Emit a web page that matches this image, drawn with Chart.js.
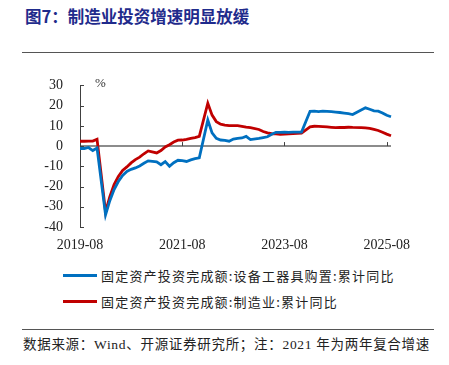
<!DOCTYPE html>
<html lang="zh">
<head>
<meta charset="UTF-8">
<title>图7：制造业投资增速明显放缓</title>
<script src="https://cdn.jsdelivr.net/npm/chart.js"></script>
<style>
    body, html {
        margin: 0;
        padding: 0;
        width: 449px;
        height: 365px;
        overflow: hidden;
        background: #fff;
        color: #222;
        font-family: 'Liberation Serif', 'Noto Sans CJK SC', serif;
    }
    .title {
        position: absolute;
        left: 25px;
        top: 6px;
        font-family: 'Noto Sans CJK SC', sans-serif;
        font-weight: 700;
        font-size: 16.5px;
        line-height: 20px;
        color: #1f2b8c;
        white-space: nowrap;
    }
    .rule {
        position: absolute;
        left: 22px;
        width: 412px;
        border-top: 1.5px solid #555;
    }
    #chartWrap {
        position: absolute;
        left: 0;
        top: 60px;
        width: 449px;
        height: 200px;
    }
    .unit {
        position: absolute;
        left: 95px;
        top: 75px;
        font-size: 13px;
        color: #333;
    }
    .legend-row {
        position: absolute;
        left: 63px;
        height: 18px;
        display: flex;
        align-items: center;
        white-space: nowrap;
    }
    .swatch {
        width: 34px;
        height: 3px;
        margin-right: 4px;
    }
    .legend-row span.lbl {
        font-family: 'Noto Sans CJK SC', sans-serif;
        font-size: 13px;
        letter-spacing: 1.2px;
        color: #222;
    }
    .source {
        position: absolute;
        left: 23px;
        top: 336px;
        font-size: 13.5px;
        line-height: 18px;
        letter-spacing: 0.7px;
        white-space: nowrap;
        color: #222;
    }
</style>
</head>
<body>
    <div class="title">图7：制造业投资增速明显放缓</div>
    <div class="rule" style="top:52px"></div>
    <div id="chartWrap"><canvas id="chart" width="449" height="200"></canvas></div>
    <div class="unit">%</div>
    <div class="legend-row" style="top:266px"><div class="swatch" style="background:#0070C0"></div><span class="lbl" id="lbl0"></span></div>
    <div class="legend-row" style="top:292px"><div class="swatch" style="background:#C00000"></div><span class="lbl" id="lbl1"></span></div>
    <div class="rule" style="top:329px"></div>
    <div class="source">数据来源：Wind、开源证券研究所；注：2021 年为两年复合增速</div>
<script>
    // monthly categories 2019-08 .. 2025-09 (January has no cumulative value)
    const months = [];
    for (let y = 2019, m = 8; y < 2025 || (y === 2025 && m <= 9); m++) {
        if (m > 12) { m = 1; y++; }
        months.push(y + '-' + String(m).padStart(2, '0'));
    }
    const tickLabels = ['2019-08', '2021-08', '2023-08', '2025-08'];

    const seriesNames = [
        '固定资产投资完成额:设备工器具购置:累计同比',
        '固定资产投资完成额:制造业:累计同比'
    ];

    // 设备工器具购置 累计同比 (%)
    const equipGrowth = [
        -1.2, -1.2, -0.7, -2.2, -1.0,
        null, -34.0, -27.0, -21.5, -17.5, -14.5, -12.5, -11.5, -10.8, -9.8, -8.5, -7.3,
        null, -7.8, -9.2, -7.7, -10.0, -8.2, -7.0, -7.2, -7.6, -6.8, -6.2, -5.8,
        null, 12.9, 6.5, 3.8, 3.0, 2.8, 2.4, 3.5, 3.8, 4.0, 4.8, 3.2,
        null, 3.8, 4.2, 4.6, 5.8, 6.8, 6.8, 6.9, 6.8, 6.9, 6.9, 6.9,
        null, 17.2, 17.3, 17.0, 17.3, 17.2, 17.0, 16.8, 16.6, 16.3, 16.0, 15.6,
        null, 17.8, 18.9, 18.2, 17.4, 17.3, 16.4, 15.2, 14.5
    ];

    // 制造业 累计同比 (%)
    const mfgGrowth = [
        2.4, 2.4, 2.5, 2.5, 3.4,
        null, -32.5, -25.0, -19.0, -15.0, -12.0, -10.3, -8.3, -6.7, -5.5, -3.8, -2.4,
        null, -3.4, -2.2, -0.4, 0.7, 2.0, 2.9, 3.0, 3.3, 3.8, 4.2, 4.8,
        null, 21.2, 15.3, 12.1, 10.8, 10.4, 10.1, 10.1, 10.1, 9.8, 9.4, 9.1,
        null, 8.2, 7.2, 6.5, 6.1, 6.0, 5.8, 5.9, 6.1, 6.2, 6.3, 6.4,
        null, 9.5, 9.8, 9.7, 9.6, 9.5, 9.3, 9.1, 9.2, 9.2, 9.3, 9.2,
        null, 9.1, 9.0, 8.8, 8.3, 7.7, 6.8, 5.9, 5.1
    ];

    document.getElementById('lbl0').textContent = seriesNames[0];
    document.getElementById('lbl1').textContent = seriesNames[1];

    // small inward tick marks like the original (y axis right, x ticks up from zero line)
    const tickMarks = {
        id: 'tickMarks',
        afterDraw(chart) {
            const ctx = chart.ctx;
            const xs = chart.scales.x, ys = chart.scales.y;
            const zero = ys.getPixelForValue(0);
            ctx.save();
            ctx.strokeStyle = '#404040';
            ctx.lineWidth = 1;
            ctx.beginPath();
            ys.ticks.forEach(t => {
                const py = Math.round(ys.getPixelForValue(t.value)) + 0.5;
                ctx.moveTo(ys.right, py);
                ctx.lineTo(ys.right + 4, py);
            });
            tickLabels.forEach(l => {
                const i = months.indexOf(l);
                if (i <= 0) return;
                const px = Math.round(xs.getPixelForValue(i)) + 0.5;
                ctx.moveTo(px, zero);
                ctx.lineTo(px, zero - 4);
            });
            ctx.stroke();
            ctx.restore();
        }
    };

    const lineStyle = { pointRadius: 0, borderWidth: 2.8, tension: 0, spanGaps: true, fill: false };

    new Chart(document.getElementById('chart'), {
        type: 'line',
        data: {
            labels: months,
            datasets: [
                Object.assign({ label: seriesNames[0], data: equipGrowth, borderColor: '#0070C0' }, lineStyle),
                Object.assign({ label: seriesNames[1], data: mfgGrowth, borderColor: '#C00000' }, lineStyle)
            ]
        },
        options: {
            responsive: false,
            animation: false,
            devicePixelRatio: 1,
            layout: { padding: { top: 21, right: 58, left: 0, bottom: 0 } },
            plugins: { legend: { display: false }, tooltip: { enabled: false } },
            scales: {
                x: {
                    offset: false,
                    grid: { display: false, drawTicks: false },
                    border: { display: false },
                    ticks: {
                        autoSkip: false,
                        maxRotation: 0,
                        padding: 10,
                        color: '#222',
                        font: { family: 'Liberation Serif', size: 14 },
                        callback: (v, i) => tickLabels.includes(months[i]) ? months[i] : ''
                    },
                    afterFit: s => { s.height = 33; }
                },
                y: {
                    min: -40,
                    max: 30,
                    ticks: {
                        stepSize: 10,
                        padding: 17,
                        color: '#222',
                        font: { family: 'Liberation Serif', size: 14 }
                    },
                    grid: {
                        drawTicks: false,
                        lineWidth: 2,
                        color: c => c.tick && c.tick.value === 0 ? '#8c8c8c' : 'rgba(0,0,0,0)'
                    },
                    border: { color: '#404040', width: 1 },
                    afterFit: s => { s.width = 80; }
                }
            }
        },
        plugins: [tickMarks]
    });
</script>
</body>
</html>
